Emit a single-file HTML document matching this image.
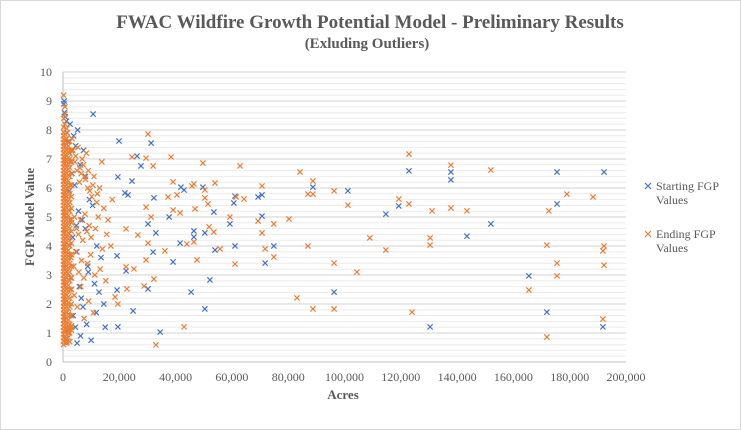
<!DOCTYPE html>
<html><head><meta charset="utf-8"><style>
body{margin:0;background:#fff}
svg{display:block;font-family:"Liberation Serif",serif}
</style></head><body>
<svg id="chart" width="741" height="430" viewBox="0 0 741 430" xmlns="http://www.w3.org/2000/svg">
<rect x="0.5" y="0.5" width="740" height="429" fill="#fff" stroke="#d9d9d9"/>
<text x="370" y="28" text-anchor="middle" font-size="19" font-weight="bold" fill="#595959">FWAC Wildfire Growth Potential Model - Preliminary Results</text>
<text x="367" y="48" text-anchor="middle" font-size="15" font-weight="bold" fill="#595959">(Exluding Outliers)</text>
<g id="grid"></g><g id="axes"></g><g id="marks"></g>
<text transform="translate(34,217) rotate(-90)" text-anchor="middle" font-size="13" font-weight="bold" fill="#595959">FGP  Model  Value</text>
<text x="343" y="399" text-anchor="middle" font-size="13" font-weight="bold" fill="#595959">Acres</text>
<g font-size="12" fill="#595959">
<g>
<path d="M645,183 l6,6 M651,183 l-6,6" stroke="#4472C4" stroke-width="1.2"/>
<text x="656" y="190">Starting FGP</text><text x="656" y="204">Values</text></g>
<g>
<path d="M645,231 l6,6 M651,231 l-6,6" stroke="#ED7D31" stroke-width="1.2"/>
<text x="656" y="238">Ending FGP</text><text x="656" y="252">Values</text></g>
</g>
</svg>
<script>
// values: x in thousands of acres, y = FGP value
const xTicks=[0,20000,40000,60000,80000,100000,120000,140000,160000,180000,200000];
const xTickLabels=["0","20,000","40,000","60,000","80,000","100,000","120,000","140,000","160,000","180,000","200,000"];
const yTicks=[0,1,2,3,4,5,6,7,8,9,10];
const startX=[10.7,19.9,31.3,26.3,27.7,24.5,19.5,41.9,43.0,49.7,61.1,60.7,53.6,59.3,37.7,30.2,33.0,46.5,46.5,50.4,41.6,54.0,61.1,32.0,39.1,22.4,19.2,52.2,30.2,45.5,50.4,24.9,34.5,19.5,23.1,22.0,32.3,19.2,12.8,69.3,70.7,70.7,74.9,71.8,88.8,101.2,96.3,114.7,119.3,122.9,137.8,137.8,143.5,152.0,165.5,171.9,175.5,175.5,192.2,191.8,130.4,
0.3,0.5,0.8,1.2,0.4,1.5,2.5,3.8,4.5,5.2,6.1,7.3,8.0,9.4,3.0,4.1,5.5,6.8,2.2,3.4,4.9,7.9,8.8,10.5,12.0,13.5,2.8,5.8,6.5,9.0,11.2,14.5,3.6,4.4,7.1,2.0,1.0,5.0,6.2,8.4,10.0,11.8,15.0,3.2,1.8,4.7];
const startY=[8.55,7.62,7.55,7.1,6.76,6.24,6.38,6.03,5.93,6.03,5.72,5.48,5.17,4.76,5.0,4.76,4.45,4.52,4.31,4.45,4.1,3.86,4.0,3.79,3.45,3.14,3.66,2.83,2.52,2.41,1.83,1.76,1.03,1.21,5.76,5.83,5.66,2.48,2.41,5.69,5.76,5.03,4.0,3.41,6.03,5.9,2.41,5.1,5.38,6.59,6.55,6.28,4.34,4.76,2.97,1.72,5.45,6.55,6.55,1.21,1.21,
8.9,8.6,8.45,8.3,9.0,7.9,8.2,7.8,7.45,8.0,6.8,7.3,6.4,5.6,6.9,6.1,5.2,4.9,5.9,4.3,3.8,4.6,3.3,5.4,4.0,3.6,2.9,2.6,2.2,3.1,2.7,2.0,1.6,1.2,1.9,1.0,0.8,0.65,0.9,1.3,0.75,1.7,1.2,6.5,7.6,4.7];
const endX=[70.7,69.3,74.9,70.7,71.8,74.9,80.3,84.2,87.0,88.8,88.8,87.0,96.3,101.2,96.3,83.1,88.8,96.3,104.4,109.0,114.7,119.3,122.9,122.9,124.0,130.4,130.4,131.1,137.8,137.8,143.5,152.0,165.5,171.9,172.6,171.9,175.5,175.5,179.0,188.3,192.2,191.8,192.2,191.8,30.2,49.7,62.9,38.4,29.5,24.5,32.0,39.1,45.8,46.5,54.0,50.4,50.4,64.3,61.5,40.5,37.3,39.1,46.9,51.5,41.6,59.3,31.3,29.5,51.9,53.6,46.5,44.0,55.8,36.2,30.2,29.5,47.6,61.1,32.3,28.8,22.7,43.0,33.0,26.6,22.4,19.5,18.5,25.2,22.4,
3.5,4.2,5.0,5.8,6.5,7.2,8.0,8.8,9.5,10.2,11.0,12.0,13.0,14.5,16.0,17.5,
3.0,4.0,4.8,5.5,6.2,7.0,7.8,8.5,9.3,10.0,11.5,12.5,14.0,15.5,17.0,
3.2,4.5,5.3,6.0,6.8,7.6,8.3,9.0,10.6,12.2,13.8,
2.8,3.8,4.6,5.6,6.6,7.4,8.7,9.8,11.3,13.2,15.2,
4.0,5.1,6.3,7.5,9.1,10.8,
0.2,0.2,0.2,0.2,0.2,0.2,0.2,0.2,0.2,0.2,0.2,0.2,0.2,0.2,0.2,0.2,0.2,0.2,0.2,0.2,0.2,0.2,0.2,0.2,0.2,0.2,0.2,0.2,0.2,0.2,0.2,0.2,0.2,0.2,0.2,0.2,0.2,0.2,0.2,0.2,0.2,0.2,0.2,0.2,0.2,0.2,0.2,0.2,0.2,0.2,0.2,0.2,0.2,0.2,0.2,0.2,0.2,0.2,0.2,0.2,0.2,0.2,0.2,0.2,0.2,
1.3,1.3,1.3,1.3,1.3,1.3,1.3,1.3,1.3,1.3,1.3,1.3,1.3,1.3,1.3,1.3,1.3,1.3,1.3,1.3,1.3,1.3,1.3,1.3,1.3,1.3,1.3,1.3,1.3,1.3,1.3,1.3,1.3,1.3,1.3,1.3,1.3,1.3,1.3,1.3,1.3,1.3,
2.4,2.4,2.4,2.4,2.4,2.4,2.4,2.4,2.4,2.4,2.4,2.4,2.4,2.4,2.4,2.4,2.4,2.4,2.4,2.4,2.4,2.4,2.4,2.4,2.4,2.4,2.4,2.4,
0.7,0.7,0.7,0.7,0.7,0.7,0.7,0.7,0.7,0.7,0.7,0.7,0.7,0.7,0.7,0.7,0.7,0.7,0.7,0.7,0.7,0.7,0.7,0.7,0.7,0.7,0.7,0.7,0.7,0.7,0.7,0.7,0.7,0.7,0.7,0.7,0.7,0.7,0.7,0.7,
1.9,1.9,1.9,1.9,1.9,1.9,1.9,1.9,1.9,1.9,1.9,1.9,1.9,1.9,1.9,1.9,1.9,1.9,1.9,1.9,1.9,1.9,1.9,1.9,1.9,1.9,1.9,1.9,1.9,1.9,1.9,1.9,1.9,1.9,
3.0,3.0,3.0,3.0,3.0,3.0,3.0,3.0,3.0,3.0,3.0,3.0,3.0,3.0,3.0,3.0,3.0,3.0];
const endY=[6.07,4.86,4.76,4.45,3.9,3.62,4.93,6.55,5.79,5.79,6.24,4.0,5.9,5.41,3.41,2.21,1.83,1.83,3.1,4.28,3.86,5.62,7.17,5.45,1.72,4.28,4.03,5.21,6.79,5.31,5.21,6.62,2.48,4.03,5.21,0.86,3.41,2.97,5.79,5.69,4.0,3.83,3.34,1.48,7.86,6.86,6.76,7.07,7.03,7.07,6.76,6.21,6.07,6.14,6.17,5.93,5.66,5.62,5.69,5.76,5.69,5.24,5.28,5.45,5.14,5.0,5.0,5.34,4.66,4.48,4.14,4.07,3.9,3.83,4.1,3.52,3.52,3.38,2.86,2.62,2.52,1.21,0.59,4.38,4.59,2.0,2.24,3.21,3.28,
7.3,6.9,6.6,6.2,6.5,6.8,6.3,6.0,5.9,5.7,6.4,5.5,6.0,5.3,4.9,5.6,
4.8,5.0,4.6,4.4,4.9,4.2,5.1,4.5,4.7,4.3,4.6,5.0,3.9,4.4,4.0,
7.7,7.1,7.4,6.7,7.0,6.4,7.2,6.6,6.1,5.8,6.9,
3.6,3.3,3.8,3.1,3.5,2.9,3.4,3.7,3.0,3.2,2.8,
2.3,1.9,2.6,1.5,2.1,1.7,
0.6,0.72,0.84,0.96,1.08,1.2,1.32,1.44,1.56,1.68,1.8,1.92,2.04,2.16,2.28,2.4,2.52,2.64,2.76,2.88,3.0,3.12,3.24,3.36,3.48,3.6,3.72,3.84,3.96,4.08,4.2,4.32,4.44,4.56,4.68,4.8,4.92,5.04,5.16,5.28,5.4,5.52,5.64,5.76,5.88,6.0,6.12,6.24,6.36,6.48,6.6,6.72,6.84,6.96,7.08,7.2,7.32,7.44,7.56,7.68,7.8,7.92,8.1,8.4,9.2,
0.66,0.8,0.95,1.1,1.3,1.5,1.7,1.9,2.1,2.3,2.5,2.7,2.9,3.1,3.3,3.5,3.7,3.9,4.1,4.3,4.5,4.7,4.9,5.1,5.3,5.5,5.7,5.9,6.1,6.3,6.5,6.7,6.9,7.1,7.3,7.5,7.7,7.9,8.05,0.7,1.15,1.2,
0.7,1.0,1.3,1.6,1.9,2.2,2.5,2.8,3.1,3.4,3.7,4.0,4.3,4.6,4.9,5.2,5.5,5.8,6.1,6.4,6.7,7.0,7.3,7.6,1.15,1.2,6.9,7.2,
0.66,0.86,1.06,1.26,1.46,1.66,1.86,2.06,2.26,2.46,2.66,2.86,3.06,3.26,3.46,3.66,3.86,4.06,4.26,4.46,4.66,4.86,5.06,5.26,5.46,5.66,5.86,6.06,6.26,6.46,6.66,6.86,7.06,7.26,7.46,7.66,7.86,8.2,8.55,8.8,
0.85,1.05,1.25,1.45,1.65,1.85,2.05,2.25,2.45,2.65,2.85,3.05,3.25,3.45,3.65,3.85,4.05,4.25,4.45,4.65,4.85,5.05,5.25,5.45,5.65,5.85,6.05,6.25,6.45,6.65,6.85,7.05,7.25,7.45,
1.2,1.6,2.0,2.5,2.9,3.3,3.7,4.1,4.5,4.9,5.3,5.7,6.1,6.5,6.9,7.3,1.1,1.25];

const X0=63,X1=626,Y0=362,Y1=72;
const xs=v=>X0+(v/200000)*(X1-X0);
const ys=v=>Y0-(v/10)*(Y0-Y1);
const NS="http://www.w3.org/2000/svg";
function mk(tag,attrs,parent){const e=document.createElementNS(NS,tag);for(const k in attrs)e.setAttribute(k,attrs[k]);parent.appendChild(e);return e;}
const grid=document.getElementById('grid'),axes=document.getElementById('axes'),marks=document.getElementById('marks');
for(let i=0;i<=50;i++){const v=i*0.2;const y=ys(v);
 const l=mk('line',{x1:X0,x2:X1,y1:y,y2:y,stroke:i%5===0?'#d0d0d0':'#ececec','stroke-width':1},grid);
 
 }
yTicks.forEach(v=>{const t=mk('text',{x:52,y:ys(v)+4,'text-anchor':'end','font-size':12,fill:'#595959'},axes);t.textContent=v;
 
 });
xTicks.forEach((v,i)=>{const t=mk('text',{x:xs(v),y:381,'text-anchor':'middle','font-size':12,fill:'#595959'},axes);t.textContent=xTickLabels[i];
 
 });
const ax=mk('line',{x1:X0,x2:X0,y1:Y1,y2:Y0,stroke:'#bfbfbf'},axes);


const bx=mk('line',{x1:X0,x2:X1,y1:Y0,y2:Y0,stroke:'#bfbfbf'},axes);


function series(X,Y,color,name){const g=mk('g',{stroke:color,'stroke-width':1.2},marks);
 
 
 for(let i=0;i<X.length;i++){const px=xs(X[i]*1000),py=ys(Y[i]);
  const p=mk('path',{d:`M${px-2.6},${py-2.6}L${px+2.6},${py+2.6}M${px+2.6},${py-2.6}L${px-2.6},${py+2.6}`},g);
  
  }}
series(startX,startY,'#4472C4','starting-fgp-series');
series(endX,endY,'#ED7D31','ending-fgp-series');
</script>
</body></html>
